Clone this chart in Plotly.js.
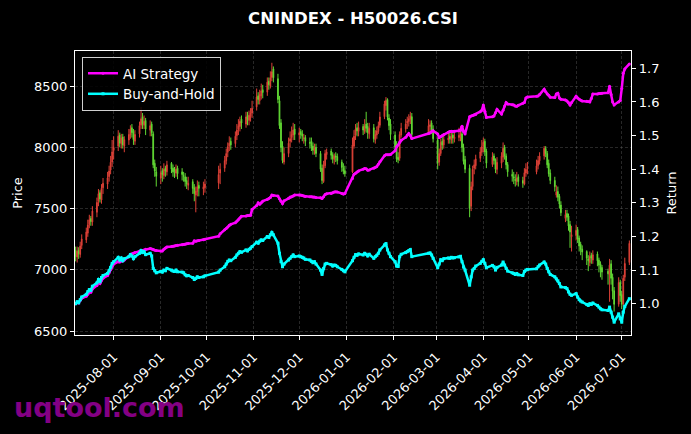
<!DOCTYPE html>
<html>
<head>
<meta charset="utf-8">
<script src="https://cdn.plot.ly/plotly-3.0.1.min.js"></script>
<style>
  html, body { margin: 0; padding: 0; background: #000; }
  #chart { width: 691px; height: 434px; }
</style>
</head>
<body>
<div id="chart"></div>
<script>
// ---- trading calendar (weekdays minus exchange holidays) ----
const startDate = '2025-07-07';
const endDate = '2026-07-06';
const holidays = ['2025-10-01','2025-10-02','2025-10-03','2025-10-06','2025-10-07','2025-10-08',
  '2026-01-01','2026-01-02','2026-02-16','2026-02-17','2026-02-18','2026-02-19','2026-02-20','2026-02-23',
  '2026-04-06','2026-05-01','2026-05-04','2026-05-05','2026-06-19'];

// ---- OHLC (per month: Jul25 .. Jul26) ----
const openP = [
  7160,7105,7160,7125,7200,7245,7300,7370,7420,7390,7470,7560,7630,7570,7670,7700,7760,7815,7880,
  7975,8010,8100,8030,8085,8010,8060,8100,8160,8130,8050,8110,8180,8250,8180,8220,8140,8190,8110,7870,7800,
  7750,7810,7770,7830,7800,7870,7830,7805,7790,7830,7800,7770,7760,7730,7690,7720,7670,7610,7640,7690,7660,7670,
  7710,7790,7830,7890,7960,8010,8050,8030,8095,8150,8170,8230,8190,8260,8220,8250,8280,
  8330,8420,8380,8420,8470,8450,8540,8500,8570,8640,8560,8380,8200,8010,7880,7950,8050,8080,8100,8150,
  8100,8130,8110,8070,8080,8040,8050,8010,7970,8000,7950,7830,7720,7850,7940,7970,7940,7900,7930,7925,7880,7830,7810,
  7800,8010,8100,8160,8130,8170,8130,8190,8170,8110,8160,8060,8100,8130,8180,8250,8340,8390,8240,8190,
  8100,8010,7920,7910,8100,8150,8200,8210,8230,8250,8120,8170,8200,8150,
  8060,7880,7950,8050,8020,8060,8090,8060,8100,8070,8080,8090,8110,8000,7900,7830,7520,7680,7830,7850,7910,7960,
  8010,8050,7970,7860,7930,7900,7820,7870,7920,8000,7930,7860,7780,7760,7740,7720,7760,7730,7700,7790,7830,
  7800,7850,7890,7930,7990,7950,7870,7790,7730,7610,7640,7600,7530,7420,7460,7440,7370,7270,
  7280,7330,7260,7210,7170,7150,7090,7060,7120,7080,7130,7080,7050,7020,6990,6960,7050,6940,6830,6720,6900,
  6800,6720,6940,7060
];
const highP = [
  7190,7190,7185,7230,7290,7345,7410,7450,7440,7520,7590,7660,7650,7700,7750,7800,7850,7930,8060,
  8090,8140,8120,8110,8110,8090,8150,8180,8190,8150,8140,8210,8330,8280,8260,8240,8220,8210,8130,7900,7840,
  7850,7830,7870,7850,7890,7880,7860,7840,7860,7850,7830,7800,7790,7760,7760,7740,7700,7680,7730,7720,7720,7740,
  7850,7870,7930,7990,8040,8090,8080,8130,8190,8230,8250,8260,8290,8290,8300,8320,8380,
  8480,8450,8470,8520,8510,8570,8570,8620,8690,8660,8600,8420,8230,8050,8000,8080,8130,8170,8200,8190,
  8160,8150,8140,8110,8100,8080,8080,8040,8030,8030,7970,7860,7890,7980,7990,7990,7960,7950,7960,7950,7900,7870,7850,
  8080,8140,8190,8200,8210,8190,8230,8290,8200,8200,8190,8140,8170,8210,8290,8380,8410,8400,8270,8230,
  8130,8050,7960,8130,8200,8230,8250,8270,8290,8280,8230,8220,8220,8180,
  8080,7990,8070,8090,8100,8120,8130,8140,8140,8130,8160,8170,8140,8030,7930,7860,7720,7850,7900,7940,8000,8060,
  8080,8070,7990,7960,7950,7910,7920,7960,8040,8020,7950,7880,7820,7800,7780,7800,7780,7760,7830,7870,7880,
  7900,7930,7960,8010,8010,7970,7900,7820,7760,7690,7680,7620,7560,7490,7490,7460,7400,7360,
  7370,7350,7280,7230,7200,7160,7120,7150,7140,7160,7150,7100,7070,7040,7010,7090,7080,6970,6860,6940,6920,
  6830,6960,7100,7240
];
const lowP = [
  7070,7060,7090,7100,7170,7220,7270,7340,7360,7360,7430,7520,7550,7540,7620,7660,7720,7780,7840,
  7900,7970,8000,7990,7990,7960,8020,8070,8080,8020,8020,8080,8150,8150,8150,8100,8090,8090,7830,7760,7680,
  7700,7720,7740,7760,7770,7790,7760,7750,7760,7740,7730,7720,7680,7660,7650,7620,7560,7470,7600,7600,7610,7630,
  7660,7700,7800,7860,7920,7970,7980,8000,8060,8100,8130,8150,8160,8180,8180,8210,8240,
  8300,8350,8350,8390,8400,8420,8470,8480,8540,8530,8360,8150,7960,7870,7860,7920,8000,8040,8060,8060,
  8040,8070,8050,8030,8010,7990,7970,7940,7940,7920,7800,7700,7710,7830,7900,7900,7870,7860,7880,7860,7800,7780,7760,
  7790,7990,8060,8090,8090,8100,8110,8120,8070,8070,8040,8030,8070,8110,8160,8230,8300,8220,8140,8060,
  7980,7880,7870,7890,8080,8120,8150,8170,8190,8080,8100,8120,8110,8040,
  7820,7850,7930,7980,7990,8030,8030,8030,8030,8040,8050,8050,7960,7860,7790,7430,7480,7650,7780,7820,7880,7930,
  7960,7930,7830,7840,7860,7790,7780,7830,7880,7900,7820,7760,7720,7700,7680,7690,7680,7670,7690,7760,7780,
  7780,7820,7860,7900,7920,7830,7760,7700,7640,7590,7560,7500,7440,7390,7400,7320,7180,7150,
  7240,7220,7150,7120,7080,7040,6990,7030,7050,7050,7030,6980,6940,6920,6880,6740,6880,6760,6660,6700,6740,
  6680,6700,6910,7040
];
const closeP = [
  7110,7153,7131,7195,7252,7309,7366,7409,7394,7480,7551,7622,7579,7665,7707,7750,7807,7878,7963,
  7999,8091,8034,8077,8020,8063,8105,8148,8120,8063,8105,8177,8233,8191,8212,8148,8177,8120,7857,7807,7764,
  7793,7778,7821,7807,7857,7821,7800,7793,7821,7785,7778,7764,7721,7700,7707,7665,7622,7643,7679,7665,7679,7700,
  7778,7821,7892,7949,8006,8034,8020,8091,8141,8177,8212,8198,8248,8226,8262,8283,8319,
  8411,8390,8432,8461,8447,8532,8511,8568,8617,8568,8390,8177,7999,7892,7949,8034,8070,8105,8141,8105,
  8120,8105,8091,8077,8049,8034,8006,7977,7999,7949,7821,7729,7857,7949,7963,7935,7906,7928,7921,7892,7835,7807,7785,
  8020,8091,8148,8134,8162,8141,8177,8155,8120,8155,8070,8105,8134,8177,8248,8354,8383,8248,8177,8105,
  7999,7906,7899,8105,8155,8191,8212,8233,8255,8105,8177,8184,8141,8070,
  7871,7949,8041,8020,8063,8077,8070,8091,8077,8084,8098,8113,7999,7885,7821,7501,7679,7821,7857,7906,7963,8006,
  8041,7963,7871,7920,7892,7821,7878,7928,7992,7928,7857,7800,7764,7750,7729,7750,7721,7707,7793,7821,7835,
  7849,7892,7928,7992,7949,7857,7785,7729,7679,7636,7593,7537,7466,7451,7430,7359,7309,7288,
  7323,7252,7195,7167,7146,7096,7074,7110,7096,7124,7074,7039,7003,6982,6968,7039,6932,6826,6719,6897,6790,
  6719,6932,7053,7217
];

// ---- cumulative returns ----
const aiStrategy = [
  1.000,1.004,1.002,1.010,1.016,1.022,1.028,1.034,1.034,1.044,1.054,1.064,1.060,1.070,1.076,1.084,1.092,1.102,1.112,
  1.118,1.125,1.124,1.127,1.127,1.130,1.140,1.147,1.148,1.150,1.152,1.156,1.157,1.158,1.160,1.162,1.164,1.163,1.161,1.159,1.158,
  1.157,1.157,1.162,1.166,1.169,1.170,1.171,1.172,1.173,1.174,1.175,1.176,1.177,1.178,1.179,1.180,1.187,1.186,1.187,1.188,1.190,1.192,
  1.201,1.208,1.220,1.224,1.228,1.233,1.236,1.241,1.245,1.250,1.255,1.260,1.261,1.262,1.262,1.263,1.280,
  1.292,1.300,1.296,1.300,1.305,1.310,1.313,1.316,1.323,1.322,1.320,1.312,1.305,1.298,1.306,1.314,1.317,1.318,1.320,1.323,
  1.323,1.323,1.322,1.320,1.319,1.318,1.318,1.317,1.317,1.316,1.315,1.313,1.318,1.325,1.327,1.328,1.330,1.332,1.333,1.332,1.328,1.326,1.328,
  1.372,1.385,1.388,1.392,1.395,1.400,1.402,1.401,1.397,1.398,1.403,1.405,1.408,1.415,1.422,1.440,1.443,1.443,1.443,1.444,
  1.455,1.467,1.472,1.480,1.486,1.495,1.502,1.506,1.500,1.491,1.506,1.508,1.512,1.514,
  1.505,1.494,1.497,1.500,1.503,1.510,1.512,1.513,1.512,1.513,1.514,1.516,1.528,1.512,1.505,1.556,1.558,1.560,1.561,1.563,1.571,1.575,
  1.591,1.572,1.554,1.556,1.558,1.568,1.578,1.564,1.575,1.588,1.598,1.594,1.592,1.591,1.588,1.587,1.590,1.596,1.598,1.612,1.615,
  1.617,1.618,1.622,1.638,1.630,1.624,1.620,1.614,1.613,1.624,1.626,1.612,1.608,1.606,1.603,1.598,1.591,1.598,
  1.617,1.612,1.608,1.605,1.603,1.602,1.601,1.600,1.610,1.624,1.624,1.625,1.625,1.626,1.627,1.647,1.622,1.600,1.591,1.600,1.604,
  1.640,1.685,1.698,1.713
];
const buyHold = [
  1.000,1.006,1.003,1.012,1.020,1.028,1.036,1.042,1.040,1.052,1.062,1.072,1.066,1.078,1.084,1.090,1.098,1.108,1.120,
  1.125,1.138,1.130,1.136,1.128,1.134,1.140,1.146,1.142,1.134,1.140,1.150,1.158,1.152,1.155,1.146,1.150,1.142,1.105,1.098,1.092,
  1.096,1.094,1.100,1.098,1.105,1.100,1.097,1.096,1.100,1.095,1.094,1.092,1.086,1.083,1.084,1.078,1.072,1.075,1.080,1.078,1.080,1.083,
  1.094,1.100,1.110,1.118,1.126,1.130,1.128,1.138,1.145,1.150,1.155,1.153,1.160,1.157,1.162,1.165,1.170,
  1.183,1.180,1.186,1.190,1.188,1.200,1.197,1.205,1.212,1.205,1.180,1.150,1.125,1.110,1.118,1.130,1.135,1.140,1.145,1.140,
  1.142,1.140,1.138,1.136,1.132,1.130,1.126,1.122,1.125,1.118,1.100,1.087,1.105,1.118,1.120,1.116,1.112,1.115,1.114,1.110,1.102,1.098,1.095,
  1.128,1.138,1.146,1.144,1.148,1.145,1.150,1.147,1.142,1.147,1.135,1.140,1.144,1.150,1.160,1.175,1.179,1.160,1.150,1.140,
  1.125,1.112,1.111,1.140,1.147,1.152,1.155,1.158,1.161,1.140,1.150,1.151,1.145,1.135,
  1.107,1.118,1.131,1.128,1.134,1.136,1.135,1.138,1.136,1.137,1.139,1.141,1.125,1.109,1.100,1.055,1.080,1.100,1.105,1.112,1.120,1.126,
  1.131,1.120,1.107,1.114,1.110,1.100,1.108,1.115,1.124,1.115,1.105,1.097,1.092,1.090,1.087,1.090,1.086,1.084,1.096,1.100,1.102,
  1.104,1.110,1.115,1.124,1.118,1.105,1.095,1.087,1.080,1.074,1.068,1.060,1.050,1.048,1.045,1.035,1.028,1.025,
  1.030,1.020,1.012,1.008,1.005,0.998,0.995,1.000,0.998,1.002,0.995,0.990,0.985,0.982,0.980,0.990,0.975,0.960,0.945,0.970,0.955,
  0.945,0.975,0.992,1.015
];

const priceTicks = [6500, 7000, 7500, 8000, 8500];
const returnTicks = [1.0, 1.1, 1.2, 1.3, 1.4, 1.5, 1.6, 1.7];

function tradingDays(start, end, skip) {
  const out = [];
  const skipSet = new Set(skip);
  const d = new Date(start + 'T00:00:00Z');
  const e = new Date(end + 'T00:00:00Z');
  while (d <= e) {
    const wd = d.getUTCDay();
    const s = d.toISOString().slice(0, 10);
    if (wd !== 0 && wd !== 6 && !skipSet.has(s)) out.push(s);
    d.setUTCDate(d.getUTCDate() + 1);
  }
  return out;
}
const dates = tradingDays(startDate, endDate, holidays);

const FONT = 'DejaVu Sans, Verdana, sans-serif';
const UP = '#f5483d';
const DOWN = '#6cf03a';
const GRID = 'rgba(128,128,128,0.5)';

const traces = [
  {
    type: 'candlestick', x: dates, open: openP, high: highP, low: lowP, close: closeP,
    xaxis: 'x', yaxis: 'y', showlegend: false, whiskerwidth: 0, opacity: 0.9,
    increasing: { line: { color: UP, width: 1 }, fillcolor: UP },
    decreasing: { line: { color: DOWN, width: 1 }, fillcolor: DOWN },
    hoverinfo: 'skip'
  },
  {
    type: 'scatter', mode: 'lines+markers', name: 'AI Strategy', x: dates, y: aiStrategy,
    xaxis: 'x', yaxis: 'y2',
    line: { color: '#ff00ff', width: 2.5 }, marker: { color: '#ff00ff', size: 3, symbol: 'circle' }
  },
  {
    type: 'scatter', mode: 'lines+markers', name: 'Buy-and-Hold', x: dates, y: buyHold,
    xaxis: 'x', yaxis: 'y2',
    line: { color: '#00ffff', width: 2.5 }, marker: { color: '#00ffff', size: 3, symbol: 'square' }
  }
];

const axisCommon = {
  color: '#ffffff',
  ticks: 'outside', ticklen: 4, tickwidth: 1, tickcolor: '#ffffff',
  tickfont: { family: FONT, size: 13, color: '#ffffff' },
  showline: true, linecolor: '#ffffff', linewidth: 1.2,
  zeroline: false
};

const layout = {
  width: 691, height: 434,
  paper_bgcolor: '#000000', plot_bgcolor: '#000000',
  margin: { l: 75, r: 60, t: 51, b: 99 },
  font: { family: FONT, color: '#ffffff', size: 13 },
  title: {
    text: 'CNINDEX - H50026.CSI',
    font: { family: FONT, size: 16.5, color: '#ffffff', weight: 'bold' },
    x: 0.5, xref: 'paper', xanchor: 'center',
    y: 1 - 18 / 434, yref: 'container', yanchor: 'middle'
  },
  showlegend: true,
  legend: {
    x: 0.0126, y: 0.979, xanchor: 'left', yanchor: 'top',
    bgcolor: 'rgba(0,0,0,0.85)', bordercolor: '#d0d0d0', borderwidth: 1,
    font: { family: FONT, size: 13.5, color: '#ffffff' },
    tracegroupgap: 0
  },
  xaxis: Object.assign({}, axisCommon, {
    type: 'date',
    range: ['2025-07-06 14:00', '2026-07-07 02:00'],
    tick0: '2025-08-01', dtick: 'M1', tickformat: '%Y-%m-%d', tickangle: -45,
    ticklabelstandoff: 4,
    showgrid: true, gridcolor: GRID, gridwidth: 0.6, griddash: '3px,2px',
    mirror: true,
    rangeslider: { visible: false }
  }),
  yaxis: Object.assign({}, axisCommon, {
    range: [6469, 8786],
    tickmode: 'array', tickvals: priceTicks, ticktext: priceTicks.map(String),
    showgrid: true, gridcolor: GRID, gridwidth: 0.6, griddash: '3px,2px',
    mirror: true,
    title: { text: 'Price', font: { family: FONT, size: 13, color: '#ffffff' }, standoff: 8 }
  }),
  yaxis2: Object.assign({}, axisCommon, {
    overlaying: 'y', side: 'right',
    range: [0.907, 1.7515],
    tickmode: 'array', tickvals: returnTicks, ticktext: returnTicks.map(v => v.toFixed(1)),
    showgrid: false,
    title: { text: 'Return', font: { family: FONT, size: 13, color: '#ffffff' }, standoff: 8 }
  }),
  annotations: [{
    text: 'uqtool.com', showarrow: false,
    xref: 'paper', yref: 'paper',
    x: (12 - 75) / 556, xanchor: 'left',
    y: (335 - 407) / 284, yanchor: 'middle',
    font: { family: FONT, size: 27, color: '#840084', weight: 'bold' }
  }]
};

Plotly.newPlot('chart', traces, layout, { staticPlot: true, displayModeBar: false });
</script>
</body>
</html>
